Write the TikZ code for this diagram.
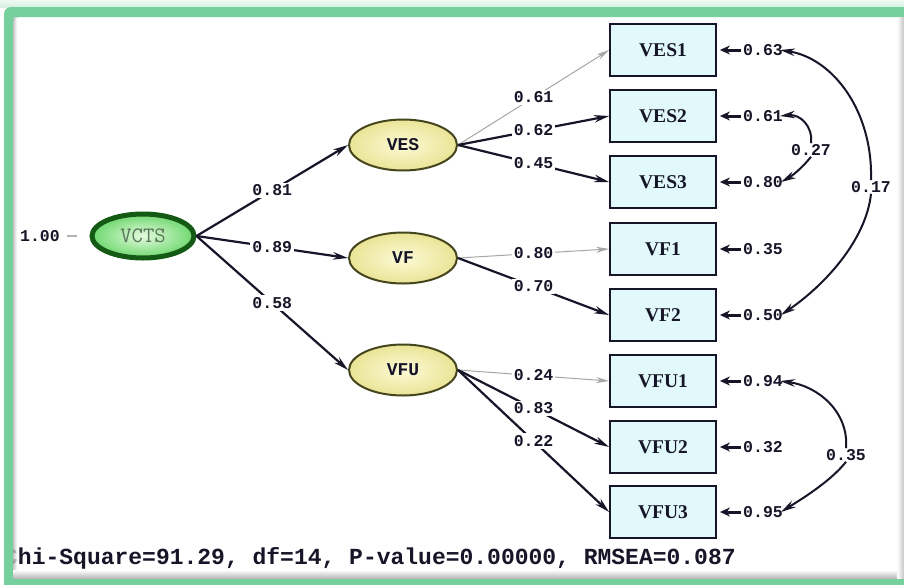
\documentclass[tikz,border=0pt]{standalone}
\usepackage{fontspec}
\setmainfont{Liberation Serif}
\newfontfamily\codefont{Liberation Mono}
\usetikzlibrary{arrows.meta,shapes.geometric}

\definecolor{framegreen}{RGB}{118,208,158}
\definecolor{boxfill}{RGB}{226,249,251}
\definecolor{ink}{RGB}{22,22,40}
\definecolor{latin}{RGB}{252,250,214}
\definecolor{latout}{RGB}{234,228,150}
\definecolor{latedge}{RGB}{70,70,30}
\definecolor{rootin}{RGB}{228,252,222}
\definecolor{rootout}{RGB}{110,215,110}
\definecolor{rootedge}{RGB}{20,90,20}
\definecolor{roottext}{RGB}{90,115,90}

\tikzset{
  latent/.style={ellipse, draw=latedge, line width=2pt, shading=radial,
    inner color=latin, outer color=latout, minimum width=108pt, minimum height=51pt,
    inner sep=0pt, font=\codefont\bfseries\fontsize{18}{18}\selectfont, text=ink},
  rootlatent/.style={ellipse, draw=rootedge, line width=5pt, shading=radial,
    inner color=rootin, outer color=rootout, minimum width=102pt, minimum height=44pt,
    inner sep=0pt, font=\ttfamily\fontsize{22}{22}\selectfont, text=roottext},
  observed/.style={rectangle, draw=ink, line width=1.8pt, fill=boxfill,
    minimum width=106pt, minimum height=52pt, inner sep=0pt,
    font=\bfseries\fontsize{19.5}{19.5}\selectfont, text=ink},
  coef/.style={fill=white, inner sep=2pt, text=ink,
    font=\codefont\bfseries\fontsize{16.5}{16.5}\selectfont},
  errval/.style={inner sep=1pt, text=ink,
    font=\codefont\bfseries\fontsize{16.5}{16.5}\selectfont},
  load/.style={-{Stealth[length=15pt,width=7.5pt]}, line width=2.2pt, draw=ink},
  weakload/.style={-{Stealth[length=13pt,width=6pt]}, line width=1pt, draw=gray!70},
  errarrow/.style={-{Stealth[length=10pt,width=9pt]}, line width=3pt, draw=ink,
    shorten >=3pt, shorten <=1pt},
  cov/.style={-{Stealth[length=15pt,width=7.5pt]}, line width=2pt, draw=ink},
}

\begin{document}
\begin{tikzpicture}[x=1pt,y=-1pt]
\useasboundingbox (0,0) rectangle (904,584);
\fill[white] (0,0) rectangle (904,584);

% latent variables
\node[rootlatent] (vcts) at (143,236) {VCTS};
\node[latent] (ves) at (403,145) {VES};
\node[latent] (vf)  at (403,258) {VF};
\node[latent] (vfu) at (403,370) {VFU};

% indicators
\node[observed] (ves1) at (663,50)  {VES1};
\node[observed] (ves2) at (663,116) {VES2};
\node[observed] (ves3) at (663,182) {VES3};
\node[observed] (vf1)  at (663,249) {VF1};
\node[observed] (vf2)  at (663,315) {VF2};
\node[observed] (vfu1) at (663,381) {VFU1};
\node[observed] (vfu2) at (663,447) {VFU2};
\node[observed] (vfu3) at (663,512) {VFU3};

% error variances
\node[errval] (e1) at (763,50)  {0.63};
\node[errval] (e2) at (763,116) {0.61};
\node[errval] (e3) at (763,182) {0.80};
\node[errval] (e4) at (763,249) {0.35};
\node[errval] (e5) at (763,315) {0.50};
\node[errval] (e6) at (763,381) {0.94};
\node[errval] (e7) at (763,447) {0.32};
\node[errval] (e8) at (763,512) {0.95};

\foreach \e/\b in {e1/ves1,e2/ves2,e3/ves3,e4/vf1,e5/vf2,e6/vfu1,e7/vfu2,e8/vfu3}
  \draw[errarrow] (\e.west) -- (\b.east);

% variance of the second-order factor
\node[errval] (one) at (40,236) {1.00};
\coordinate (onetip) at (77,236);
\draw[gray!60, line width=1.2pt] ([xshift=6pt]one.east) -- (onetip);

% second-order loadings
\draw[load] (vcts.east) -- node[coef] {0.81} (ves.west);
\draw[load] (vcts.east) -- node[coef] {0.89} (vf.west);
\draw[load] (vcts.east) -- node[coef] {0.58} (vfu.west);

% first-order loadings
\draw[weakload] (ves.east) -- node[coef] {0.61} (ves1.west);
\draw[load] (ves.east) -- node[coef] {0.62} (ves2.west);
\draw[load] (ves.east) -- node[coef] {0.45} (ves3.west);
\draw[weakload] (vf.east) -- node[coef] {0.80} (vf1.west);
\draw[load] (vf.east) -- node[coef] {0.70} (vf2.west);
\draw[weakload] (vfu.east) -- node[coef] {0.24} (vfu1.west);
\draw[load] (vfu.east) -- node[coef] {0.83} (vfu2.west);
\draw[load] (vfu.east) -- node[coef] {0.22} (vfu3.west);

% error covariances
\node[errval] (c17) at (871,187) {0.17};
\node[errval] (c27) at (811,150) {0.27};
\node[errval] (c35) at (846,455) {0.35};
\draw[cov] (c17.north) .. controls (873,110) and (832,58) .. ([xshift=-4pt]e1.east);
\draw[cov] (c17.south) .. controls (866,240) and (825,285) .. ([xshift=-3pt]e5.east);
\draw[cov] (c27.north) .. controls (813,126) and (800,114) .. ([xshift=-4pt]e2.east);
\draw[cov] (c27.south) .. controls (802,168) and (792,176) .. ([xshift=-3pt]e3.east);
\draw[cov] (c35.north) .. controls (849,412) and (818,386) .. ([xshift=-4pt]e6.east);
\draw[cov] (c35.south) .. controls (830,482) and (800,500) .. ([xshift=-3pt]e8.east);

% fit statistics
\node[anchor=base west, inner sep=0pt, text=ink,
  font=\codefont\bfseries\fontsize{23}{23}\selectfont] (fit) at (4,564)
  {Chi-Square=91.29, df=14, P-value=0.00000, RMSEA=0.087};

% window frame
\shade[top color=framegreen!12, bottom color=framegreen!30] (0,0) rectangle (904,7);
\fill[framegreen, even odd rule, rounded corners=7pt]
  (4,7) rectangle (960,620) (13,17) rectangle (930,578);
\shade[left color=gray!55, right color=white, opacity=0.8] (13,17) rectangle (17,571);
\shade[top color=white, bottom color=gray!55] (13,570) rectangle (904,578);
\shade[left color=white, right color=gray!45] (897,17) rectangle (904,578);
\end{tikzpicture}
\end{document}
